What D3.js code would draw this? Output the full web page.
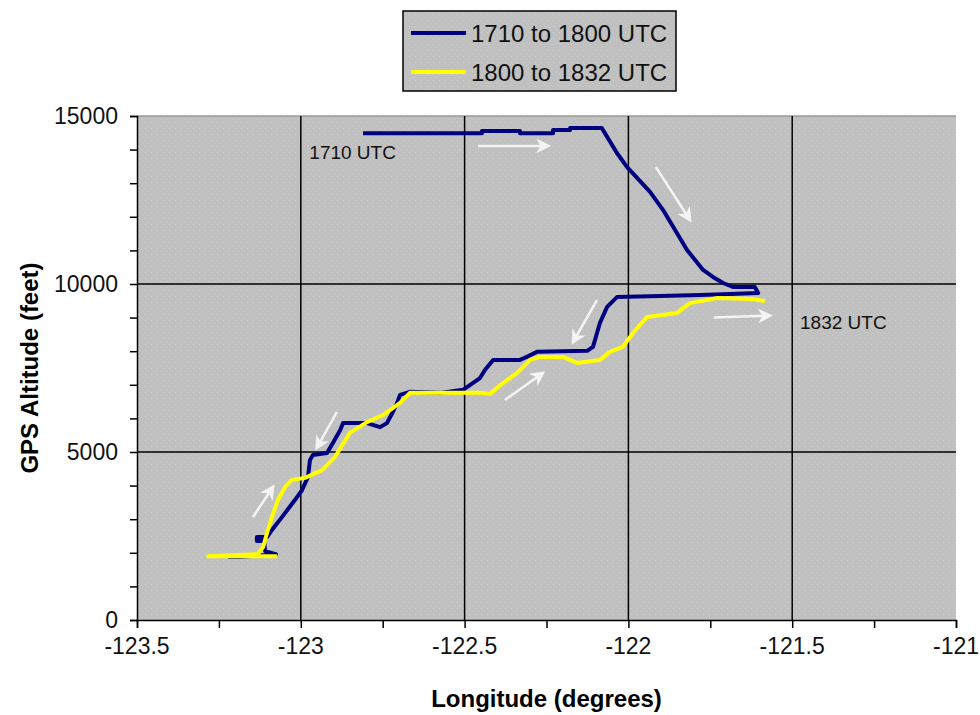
<!DOCTYPE html>
<html>
<head>
<meta charset="utf-8">
<script src="https://cdn.jsdelivr.net/npm/d3@7"></script>
<style>
  body { margin: 0; background: #fff; }
  svg { display: block; font-family: "Liberation Sans", Arial, sans-serif; }
</style>
</head>
<body>
<script>
// flight track, 1710 to 1800 UTC  [longitude, altitude ft]
var blueLon = [-122.810, -122.447, -122.447, -122.331, -122.331, -122.230, -122.230, -122.178, -122.178, -122.081,
  -122.035, -122.004, -121.934, -121.894, -121.852, -121.821, -121.772, -121.742, -121.711, -121.681,
  -121.614, -121.604, -121.690, -121.781, -121.904, -122.035, -122.065, -122.087, -122.108, -122.126,
  -122.279, -122.310, -122.331, -122.413, -122.438, -122.453, -122.484, -122.505, -122.575, -122.667,
  -122.697, -122.706, -122.719, -122.737, -122.758, -122.798, -122.871, -122.880, -122.902, -122.920,
  -122.963, -122.972, -122.978, -122.996, -123.018, -123.057, -123.088, -123.103, -123.134, -123.134,
  -123.112, -123.109, -123.076, -123.186, -123.222];
var blueAlt = [14490, 14490, 14550, 14550, 14490, 14490, 14580, 14580, 14640, 14640,
  13900, 13480, 12740, 12200, 11520, 11010, 10420, 10210, 10030, 9910,
  9910, 9730, 9700, 9670, 9640, 9610, 9320, 8840, 8130, 8010,
  7980, 7830, 7740, 7740, 7440, 7200, 6990, 6850, 6760, 6790,
  6700, 6460, 6190, 5860, 5740, 5860, 5860, 5650, 5270, 4970,
  4910, 4760, 4260, 3870, 3570, 3070, 2680, 2470, 2470, 2350,
  2350, 2050, 1960, 1880, 1880];

// flight track, 1800 to 1832 UTC
var yellowLon = [-123.073, -123.283, -123.131, -123.115, -123.103, -123.088, -123.070, -123.048, -123.027, -122.987,
  -122.935, -122.896, -122.850, -122.798, -122.749, -122.697, -122.667, -122.453, -122.422, -122.383,
  -122.340, -122.300, -122.270, -122.200, -122.157, -122.087, -122.056, -122.017, -121.986, -121.943,
  -121.852, -121.812, -121.730, -121.620, -121.583];
var yellowAlt = [1900, 1900, 1960, 2170, 2590, 3070, 3570, 3960, 4170, 4230,
  4460, 4850, 5570, 5890, 6100, 6460, 6760, 6760, 6730, 7050,
  7350, 7740, 7830, 7830, 7650, 7740, 7980, 8130, 8540, 9020,
  9140, 9430, 9580, 9550, 9490];

var seriesNames = ["1710 to 1800 UTC", "1800 to 1832 UTC"];
var seriesColors = ["#000080", "#ffff00"];

var xTicks = [-123.5, -123, -122.5, -122, -121.5, -121];
var xTickLabels = ["-123.5", "-123", "-122.5", "-122", "-121.5", "-121"];
var yTicks = [0, 5000, 10000, 15000];

// direction arrows [lon0, alt0, lon1, alt1]
var arrows = [
  [-122.459, 14110, -122.245, 14110],
  [-121.916, 13480, -121.812, 11905],
  [-121.739, 9000, -121.568, 9060],
  [-122.377, 6550, -122.261, 7350],
  [-122.096, 9520, -122.169, 8270],
  [-122.890, 6190, -122.951, 5120],
  [-123.146, 3065, -123.085, 3960]
];
var notes = [
  {text: "1710 UTC", lon: -122.974, alt: 13720},
  {text: "1832 UTC", lon: -121.476, alt: 8660}
];

var width = 980, height = 715;
var pLeft = 137, pRight = 956, pTop = 116, pBottom = 620;

var svg = d3.select("body").append("svg")
    .attr("width", width).attr("height", height);

var defs = svg.append("defs");
var pat = defs.append("pattern").attr("id", "dots")
    .attr("width", 6).attr("height", 6).attr("patternUnits", "userSpaceOnUse");
pat.append("rect").attr("width", 6).attr("height", 6).attr("fill", "#c0c0c0");
pat.append("rect").attr("x", 1).attr("y", 2).attr("width", 1).attr("height", 1).attr("fill", "#cfcfcf");
pat.append("rect").attr("x", 4).attr("y", 5).attr("width", 1).attr("height", 1).attr("fill", "#cacaca");

defs.append("marker").attr("id", "head")
    .attr("viewBox", "0 0 10 10").attr("refX", 8).attr("refY", 5)
    .attr("markerWidth", 6).attr("markerHeight", 6)
    .attr("markerUnits", "strokeWidth").attr("orient", "auto")
  .append("path").attr("d", "M0,0 L10,5 L0,10 L3,5 Z").attr("fill", "#f4f4f4");

var x = d3.scaleLinear().domain([-123.5, -121]).range([pLeft, pRight]);
var y = d3.scaleLinear().domain([0, 15000]).range([pBottom, pTop]);

// plot area
svg.append("rect")
    .attr("x", pLeft).attr("y", pTop)
    .attr("width", pRight - pLeft).attr("height", pBottom - pTop)
    .attr("fill", "url(#dots)");
svg.append("line")
    .attr("x1", pLeft).attr("x2", pRight).attr("y1", pTop).attr("y2", pTop)
    .attr("stroke", "#9a9a9a").attr("stroke-width", 1.5);

// gridlines
svg.append("g").selectAll("line")
    .data(xTicks.slice(1, -1))
    .enter().append("line")
    .attr("x1", function(d) { return x(d); }).attr("x2", function(d) { return x(d); })
    .attr("y1", pTop).attr("y2", pBottom)
    .attr("stroke", "#000").attr("stroke-width", 1.5);
svg.append("g").selectAll("line")
    .data(yTicks.slice(1, -1))
    .enter().append("line")
    .attr("y1", function(d) { return y(d); }).attr("y2", function(d) { return y(d); })
    .attr("x1", pLeft).attr("x2", pRight)
    .attr("stroke", "#000").attr("stroke-width", 1.5);

// axes
var xAxis = d3.axisBottom(x).tickValues(d3.range(-123.5, -120.99, 0.25))
    .tickSize(8).tickFormat("");
var gx = svg.append("g").attr("transform", "translate(0," + pBottom + ")").call(xAxis);
var yAxis = d3.axisLeft(y).tickValues(d3.range(0, 15001, 1000))
    .tickSize(7).tickFormat("");
var gy = svg.append("g").attr("transform", "translate(" + pLeft + ",0)").call(yAxis);
[gx, gy].forEach(function(g) {
  g.select(".domain").attr("stroke", "#000").attr("stroke-width", 1.5);
  g.selectAll(".tick line").attr("stroke", "#000").attr("stroke-width", 1.5);
});

svg.append("g").selectAll("text")
    .data(xTicks)
    .enter().append("text")
    .attr("x", function(d) { return x(d); })
    .attr("y", pBottom + 34)
    .attr("text-anchor", "middle")
    .attr("font-size", 23)
    .attr("fill", "#111")
    .text(function(d, i) { return xTickLabels[i]; });
svg.append("g").selectAll("text")
    .data(yTicks)
    .enter().append("text")
    .attr("x", pLeft - 19)
    .attr("y", function(d) { return y(d); })
    .attr("dy", "0.36em")
    .attr("text-anchor", "end")
    .attr("font-size", 23)
    .attr("fill", "#111")
    .text(function(d) { return d; });

svg.append("text")
    .attr("x", (pLeft + pRight) / 2).attr("y", 707)
    .attr("text-anchor", "middle")
    .attr("font-size", 24).attr("font-weight", "bold")
    .text("Longitude (degrees)");
svg.append("text")
    .attr("transform", "translate(38," + ((pTop + pBottom) / 2) + ") rotate(-90)")
    .attr("text-anchor", "middle")
    .attr("font-size", 24).attr("font-weight", "bold")
    .text("GPS Altitude (feet)");

// series
var line = d3.line()
    .x(function(d) { return x(d[0]); })
    .y(function(d) { return y(d[1]); });
var series = [d3.zip(blueLon, blueAlt), d3.zip(yellowLon, yellowAlt)];
svg.append("g").selectAll("path")
    .data(series)
    .enter().append("path")
    .attr("d", line)
    .attr("fill", "none")
    .attr("stroke", function(d, i) { return seriesColors[i]; })
    .attr("stroke-width", 4)
    .attr("stroke-linejoin", "round");

// arrows
svg.append("g").selectAll("line")
    .data(arrows)
    .enter().append("line")
    .attr("x1", function(d) { return x(d[0]); }).attr("y1", function(d) { return y(d[1]); })
    .attr("x2", function(d) { return x(d[2]); }).attr("y2", function(d) { return y(d[3]); })
    .attr("stroke", "#f4f4f4").attr("stroke-width", 2.5)
    .attr("marker-end", "url(#head)");

svg.append("g").selectAll("text")
    .data(notes)
    .enter().append("text")
    .attr("x", function(d) { return x(d.lon); })
    .attr("y", function(d) { return y(d.alt); })
    .attr("font-size", 19)
    .attr("fill", "#111")
    .text(function(d) { return d.text; });

// legend
var legend = svg.append("g");
legend.append("rect")
    .attr("x", 403).attr("y", 11).attr("width", 273).attr("height", 80)
    .attr("fill", "url(#dots)").attr("stroke", "#000").attr("stroke-width", 1.5);
var items = legend.selectAll("g.item")
    .data(seriesNames)
    .enter().append("g").attr("class", "item")
    .attr("transform", function(d, i) { return "translate(0," + (33 + i * 39) + ")"; });
items.append("line")
    .attr("x1", 411).attr("x2", 466)
    .attr("stroke", function(d, i) { return seriesColors[i]; })
    .attr("stroke-width", 4);
items.append("text")
    .attr("x", 471).attr("dy", "0.36em")
    .attr("font-size", 24)
    .attr("fill", "#111")
    .text(function(d) { return d; });
</script>
</body>
</html>
